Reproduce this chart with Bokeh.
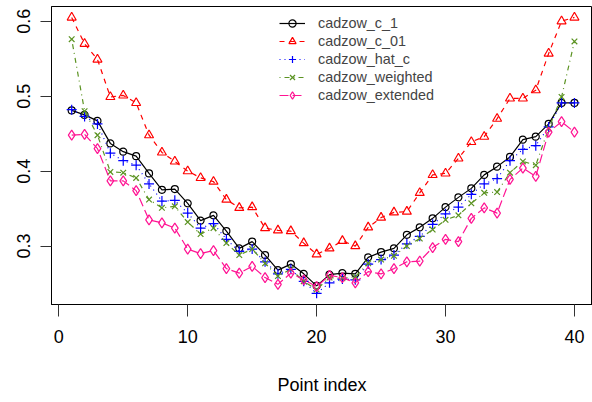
from bokeh.plotting import figure
from bokeh.models import Range1d, FixedTicker, Legend, LegendItem
from bokeh.embed import file_html
from bokeh.resources import INLINE

# ---- data ----
point_index = list(range(1, 41))

cadzow_c_1 = [0.481, 0.475, 0.467, 0.437, 0.426, 0.420, 0.397, 0.375, 0.376, 0.357,
              0.334, 0.341, 0.320, 0.297, 0.306, 0.288, 0.268, 0.276, 0.263, 0.247,
              0.262, 0.264, 0.263, 0.285, 0.292, 0.297, 0.315, 0.325, 0.337, 0.352,
              0.365, 0.377, 0.395, 0.406, 0.419, 0.442, 0.446, 0.463, 0.491, 0.491]

cadzow_c_01 = [0.605, 0.570, 0.549, 0.499, 0.501, 0.491, 0.448, 0.425, 0.413, 0.400,
               0.391, 0.386, 0.362, 0.351, 0.352, 0.324, 0.321, 0.320, 0.304, 0.289,
               0.297, 0.307, 0.300, 0.325, 0.338, 0.345, 0.346, 0.371, 0.395, 0.397,
               0.417, 0.439, 0.446, 0.470, 0.497, 0.497, 0.508, 0.557, 0.600, 0.605]

cadzow_hat_c = [0.482, 0.473, 0.463, 0.424, 0.414, 0.408, 0.383, 0.360, 0.361, 0.344,
                0.324, 0.330, 0.309, 0.293, 0.296, 0.279, 0.263, 0.269, 0.253, 0.237,
                0.251, 0.256, 0.255, 0.276, 0.282, 0.288, 0.303, 0.313, 0.329, 0.343,
                0.352, 0.369, 0.383, 0.390, 0.414, 0.429, 0.434, 0.459, 0.491, 0.491]

cadzow_weighted = [0.576, 0.480, 0.448, 0.399, 0.398, 0.391, 0.362, 0.351, 0.353, 0.332,
                   0.316, 0.324, 0.304, 0.288, 0.296, 0.277, 0.260, 0.269, 0.253, 0.242,
                   0.258, 0.257, 0.259, 0.277, 0.282, 0.287, 0.300, 0.310, 0.322, 0.335,
                   0.341, 0.357, 0.371, 0.372, 0.398, 0.413, 0.408, 0.457, 0.499, 0.573]

cadzow_extended = [0.448, 0.449, 0.430, 0.387, 0.387, 0.374, 0.335, 0.331, 0.324, 0.296,
                   0.290, 0.294, 0.270, 0.264, 0.273, 0.258, 0.249, 0.264, 0.255, 0.246,
                   0.261, 0.258, 0.251, 0.266, 0.263, 0.270, 0.279, 0.280, 0.298, 0.309,
                   0.306, 0.337, 0.351, 0.344, 0.389, 0.404, 0.393, 0.452, 0.466, 0.452]

series_names = ["cadzow_c_1", "cadzow_c_01", "cadzow_hat_c", "cadzow_weighted", "cadzow_extended"]
series_values = [cadzow_c_1, cadzow_c_01, cadzow_hat_c, cadzow_weighted, cadzow_extended]

x_ticks = [0, 10, 20, 30, 40]
y_ticks = [0.3, 0.4, 0.5, 0.6]

# ---- styles ----
colors = ["#000000", "#FF0000", "#0000FF", "#5B9322", "#FF1493"]
dashes = ["solid", "5 5", "1 4", "1 4 5 4", "9 4"]
markers = ["circle", "triangle", "cross", "x", "diamond"]
msizes = [7, 9, 10, 8, 10]

FONT = "Liberation Sans"

Y0, Y1 = 0.2221, 0.6196

p = figure(frame_width=541, frame_height=298, output_backend="svg", toolbar_location=None,
           x_range=Range1d(-0.566, 41.40), y_range=Range1d(Y0, Y1),
           min_border_left=51, min_border_right=0, min_border_top=6, min_border_bottom=98)
p.outline_line_color = "black"
p.outline_line_width = 1
p.grid.visible = False
p.background_fill_color = "white"
p.border_fill_color = "white"

items = []
for name, vals, c, d, m, s in zip(series_names, series_values, colors, dashes, markers, msizes):
    lr = p.line(point_index, vals, line_color=c, line_dash=d, line_width=1.2)
    sr = p.scatter(point_index, vals, marker=m, size=s, line_color=c, fill_color=None, line_width=1.2)
    items.append(LegendItem(label=name, renderers=[lr, sr]))

legend = Legend(items=items, location=(228, 200), padding=0, margin=0, spacing=0,
                glyph_width=26, glyph_height=18, label_height=18, label_standoff=13,
                label_text_font=FONT, label_text_font_size="14.4px",
                border_line_color=None, background_fill_alpha=0)
p.add_layout(legend, "center")

xa = p.below[0]
ya = p.left[0]

xa.ticker = FixedTicker(ticks=x_ticks)
xa.minor_tick_line_color = None
xa.major_tick_in = 0
xa.major_tick_out = 12
xa.major_label_standoff = 13
xa.major_label_text_font = FONT
xa.major_label_text_font_size = "18px"
xa.major_label_text_color = "black"
xa.axis_line_color = "black"
xa.major_tick_line_color = "#333333"
xa.axis_label = "Point index"
xa.axis_label_text_font = FONT
xa.axis_label_text_font_size = "18px"
xa.axis_label_text_font_style = "normal"
xa.axis_label_text_color = "black"
xa.axis_label_standoff = 29

ya.ticker = FixedTicker(ticks=y_ticks)
ya.minor_tick_line_color = None
ya.major_tick_in = 0
ya.major_tick_out = 11
ya.major_label_standoff = 10
ya.major_label_orientation = "vertical"
ya.major_label_text_font = FONT
ya.major_label_text_font_size = "18px"
ya.major_label_text_color = "black"
ya.axis_line_color = "black"
ya.major_tick_line_color = "#333333"

open("out.html", "w").write(file_html(p, INLINE))
